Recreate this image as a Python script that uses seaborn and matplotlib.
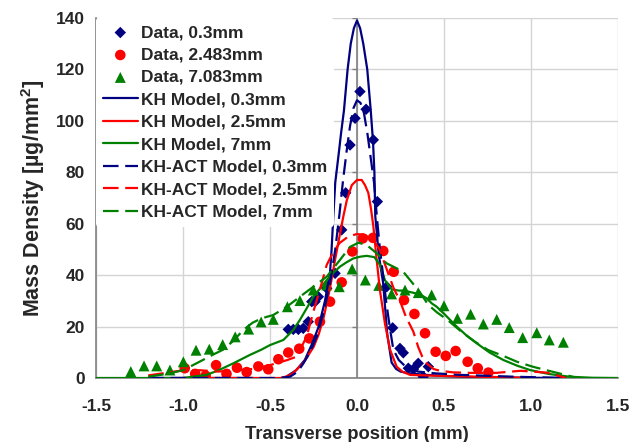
import matplotlib
matplotlib.use("Agg")
import matplotlib.pyplot as plt
import seaborn as sns
import pandas as pd
from matplotlib.transforms import blended_transform_factory

# ---------------- data ----------------
d03_x = [-0.395, -0.366, -0.337, -0.309, -0.28, -0.26, -0.241, -0.222, -0.174, -0.126,
         -0.088, -0.065, -0.04, -0.011, 0.017, 0.052, 0.094, 0.117, 0.171, 0.205,
         0.247, 0.266, 0.295, 0.324, 0.352, 0.381, 0.41]
d03_y = [18.9, 18.9, 18.9, 19.3, 21.9, 29.7, 29.7, 31.6, 34.9, 40.7,
         57.6, 72.0, 90.6, 101.0, 111.4, 104.5, 92.6, 68.6, 35.5, 19.5,
         11.5, 9.8, 3.8, 3.4, 5.7, 0.5, 4.4]

d25_x = [-0.99, -0.93, -0.87, -0.81, -0.75, -0.69, -0.634, -0.567, -0.51, -0.452,
         -0.395, -0.332, -0.274, -0.213, -0.155, -0.088, -0.027, 0.033, 0.092, 0.151,
         0.211, 0.27, 0.33, 0.391, 0.452, 0.51, 0.567, 0.636, 0.694, 0.755]
d25_y = [3.8, 1.6, 0.9, 5.0, 1.6, 4.0, 2.3, 4.5, 3.4, 7.3,
         9.9, 11.4, 15.4, 21.9, 29.7, 37.2, 49.2, 54.3, 54.5, 49.4,
         41.3, 30.3, 24.9, 17.4, 10.2, 8.6, 10.5, 6.3, 3.8, 2.1]

d7_x = [-1.30, -1.224, -1.151, -1.075, -0.998, -0.925, -0.849, -0.772, -0.70, -0.623,
        -0.551, -0.481, -0.40, -0.328, -0.251, -0.174, -0.102, -0.028, 0.048, 0.125,
        0.199, 0.276, 0.352, 0.429, 0.50, 0.577, 0.653, 0.726, 0.803, 0.875,
        0.952, 1.033, 1.105, 1.186]
d7_y = [2.5, 4.7, 4.7, 3.1, 6.3, 10.8, 11.2, 13.0, 16.0, 19.0,
        21.8, 22.8, 27.7, 30.1, 34.2, 36.2, 35.5, 42.4, 38.1, 36.0,
        32.7, 34.2, 33.2, 32.3, 28.1, 23.2, 24.8, 21.0, 22.8, 19.6,
        15.7, 17.6, 14.8, 13.9]

kh03_x = [-1.2, -0.8, -0.6, -0.52, -0.46, -0.42, -0.40, -0.35, -0.30, -0.26, -0.22, -0.184,
          -0.155, -0.146, -0.136, -0.125, -0.102, -0.092, -0.075, -0.054, -0.036, -0.018,
          0.0, 0.018, 0.036, 0.059, 0.079, 0.092, 0.100, 0.105, 0.125, 0.150, 0.174,
          0.199, 0.225, 0.25, 0.30, 0.40, 0.50, 0.70, 1.00, 1.20]
kh03_y = [0, 0, 0, -0.5, -1.0, -0.5, 0.8, 3, 7, 13, 20, 30,
          41, 50, 63, 76, 89, 95, 104, 120, 130, 136,
          139, 136, 130, 120, 104, 92, 80, 63, 48, 37, 17,
          6, 3.5, 2.5, 1.8, 1.2, 0.8, 0.3, 0.1, 0]

kh25_x = [-1.0, -0.6, -0.44, -0.4, -0.37, -0.31, -0.25, -0.22, -0.19, -0.155, -0.126,
          -0.098, -0.078, -0.059, -0.03, 0.0, 0.027, 0.046, 0.065, 0.08, 0.094, 0.113,
          0.132, 0.161, 0.19, 0.228, 0.26, 0.305, 0.4, 0.5, 0.7, 0.85, 1.0]
kh25_y = [0, 0, 0, 0.7, 1.8, 5.7, 12, 17, 24, 35, 46,
          56, 63, 69, 75, 77, 77, 75, 72, 66, 59, 46,
          34, 21, 11, 4.4, 2.5, 1.2, 1.0, 0.8, 0.5, 0.3, 0]

kh7_x = [-1.5, -1.2, -1.0, -0.864, -0.79, -0.711, -0.615, -0.55, -0.5, -0.423, -0.366,
         -0.328, -0.29, -0.251, -0.21, -0.174, -0.135, -0.098, -0.06, -0.021, 0.02, 0.056,
         0.1, 0.132, 0.161, 0.199, 0.24, 0.27, 0.32, 0.362, 0.4, 0.43, 0.458, 0.5, 0.573,
         0.63, 0.688, 0.76, 0.841, 0.92, 0.994, 1.1, 1.22, 1.35, 1.5]
kh7_y = [0, 0, 0, 1.2, 3.2, 5.7, 9, 11, 12.8, 14.8, 18.7,
         22.6, 27, 31.6, 35, 38.1, 41, 43.3, 45, 46.5, 47.2, 47.5,
         47, 44, 38, 34.5, 34, 34, 33.2, 32.5, 31, 29, 27.7, 25, 20,
         16.5, 13.5, 10, 7, 4.8, 3.1, 1.6, 0.5, 0.1, 0]

act03_x = [-1.2, -0.6, -0.45, -0.385, -0.34, -0.308, -0.27, -0.232, -0.19, -0.155, -0.125,
           -0.102, -0.08, -0.06, -0.04, -0.02, 0.0, 0.02, 0.04, 0.06, 0.08, 0.098, 0.115,
           0.132, 0.15, 0.167, 0.19, 0.209, 0.24, 0.286, 0.35, 0.45, 0.6, 0.9, 1.2]
act03_y = [0, 0, 0, 0.5, 2.5, 5.7, 10, 16, 26, 37, 50,
           63, 77, 88, 98, 105, 108, 107, 103, 95, 85, 76, 62,
           50, 40, 30, 19, 11, 7, 4, 2.5, 1.8, 1.2, 0.5, 0]

act25_x = [-1.2, -1.1, -1.0, -0.9, -0.8, -0.7, -0.6, -0.5, -0.45, -0.4, -0.347, -0.29,
           -0.25, -0.203, -0.174, -0.136, -0.1, -0.05, 0.0, 0.05, 0.1, 0.13, 0.167, 0.21,
           0.247, 0.28, 0.324, 0.352, 0.375, 0.4, 0.44, 0.477, 0.55, 0.65, 0.8, 0.94,
           1.09, 1.15, 1.2]
act25_y = [1, 2, 3, 3, 2.5, 3, 3.5, 5, 6, 7, 8.3, 16,
           26, 36.8, 44, 49, 52.5, 55, 56, 55.5, 53, 50, 43, 35,
           30, 24, 18, 12, 8.3, 5.7, 3.5, 2.8, 2.2, 2, 2, 2.8,
           2.1, 1, 0]

act7_x = [-1.2, -1.1, -1.0, -0.96, -0.9, -0.83, -0.77, -0.71, -0.653, -0.6, -0.548, -0.481,
          -0.404, -0.328, -0.251, -0.174, -0.098, -0.04, 0.008, 0.056, 0.113, 0.17, 0.209,
          0.266, 0.3, 0.33, 0.36, 0.41, 0.46, 0.52, 0.6, 0.68, 0.753, 0.851, 0.92, 1.01,
          1.09, 1.15, 1.25]
act7_y = [0.5, 1.5, 3, 4.4, 6.5, 9, 11, 14.5, 18.7, 21.5, 23.2, 24.5,
          27.7, 31.6, 35.5, 39.4, 45.9, 51, 52.6, 51.7, 48.5, 44.6, 43.3,
          41.3, 38.5, 36, 33.5, 28.4, 25.5, 22.6, 18, 14, 10.9, 8.3, 6.3, 4.4,
          3, 2, 0.3]

x_ticks = [-1.5, -1.0, -0.5, 0.0, 0.5, 1.0, 1.5]
x_ticklabels = ["-1.5", "-1.0", "-0.5", "0.0", "0.5", "1.0", "1.5"]
y_ticks = [0, 20, 40, 60, 80, 100, 120, 140]

BLUE, RED, GREEN = "#000080", "#FF0000", "#008000"

# ---------------- style ----------------
sns.set_style("white")
plt.rcParams["font.family"] = ["Liberation Sans", "DejaVu Sans"]
plt.rcParams["font.weight"] = "bold"
plt.rcParams["mathtext.fontset"] = "custom"
plt.rcParams["mathtext.rm"] = "Liberation Sans:bold"
plt.rcParams["mathtext.bf"] = "Liberation Sans:bold"
plt.rcParams["mathtext.it"] = "Liberation Sans:bold"

fig = plt.figure(figsize=(6.34, 4.42), dpi=100)
ax = fig.add_axes([96 / 634, 64 / 442, 522 / 634, 360 / 442])

# ---------------- data markers ----------------
sns.scatterplot(x=d03_x, y=d03_y, marker="D", s=34, color=BLUE, edgecolor="none",
                label="Data, 0.3mm", ax=ax, zorder=3)
sns.scatterplot(x=d25_x, y=d25_y, marker="o", s=58, color=RED, edgecolor="none",
                label="Data, 2.483mm", ax=ax, zorder=3)
sns.scatterplot(x=d7_x, y=d7_y, marker="^", s=62, color=GREEN, edgecolor="none",
                label="Data, 7.083mm", ax=ax, zorder=3)

# ---------------- model lines ----------------
lw = 1.6
dash = (0, (7, 3))
sns.lineplot(x=kh03_x, y=kh03_y, sort=False, estimator=None, color=BLUE, lw=lw,
             label="KH Model, 0.3mm", ax=ax, zorder=4)
sns.lineplot(x=kh25_x, y=kh25_y, sort=False, estimator=None, color=RED, lw=lw,
             label="KH Model, 2.5mm", ax=ax, zorder=4)
sns.lineplot(x=kh7_x, y=kh7_y, sort=False, estimator=None, color=GREEN, lw=lw,
             label="KH Model, 7mm", ax=ax, zorder=4)
sns.lineplot(x=act03_x, y=act03_y, sort=False, estimator=None, color=BLUE, lw=lw,
             linestyle=dash, label="KH-ACT Model, 0.3mm", ax=ax, zorder=4)
sns.lineplot(x=act25_x, y=act25_y, sort=False, estimator=None, color=RED, lw=lw,
             linestyle=dash, label="KH-ACT Model, 2.5mm", ax=ax, zorder=4)
sns.lineplot(x=act7_x, y=act7_y, sort=False, estimator=None, color=GREEN, lw=lw,
             linestyle=dash, label="KH-ACT Model, 7mm", ax=ax, zorder=4)

# ---------------- axes ----------------
ax.set_xlim(-1.5, 1.5)
ax.set_ylim(0, 140)
ax.set_xticks(x_ticks)
ax.set_xticklabels(x_ticklabels)
ax.set_yticks(y_ticks)
ax.grid(True, color="#d4d4d4", lw=1.0, zorder=0)
ax.set_axisbelow(True)
for side in ("top", "right"):
    ax.spines[side].set_visible(False)
for side in ("left", "bottom"):
    ax.spines[side].set_color("#808080")
    ax.spines[side].set_linewidth(1.2)
ax.tick_params(direction="out", length=4, width=1.0, color="#808080", labelsize=12.5)
ax.tick_params(axis="x", pad=11)
ax.tick_params(axis="y", pad=4)
for lab in ax.get_xticklabels() + ax.get_yticklabels():
    lab.set_fontweight("bold")

# vertical axis crossing at x = 0 with small tick marks
ax.axvline(0, color="#808080", lw=1.2, zorder=1)
trans = blended_transform_factory(ax.transAxes, ax.transData)
for yt in y_ticks[1:]:
    ax.plot([0.5 - 0.009, 0.5], [yt, yt], transform=trans, color="#808080",
            lw=1.0, zorder=1, solid_capstyle="butt")

ax.set_xlabel("Transverse position (mm)", fontsize=13.2, fontweight="bold", labelpad=9)
ax.set_ylabel(r"Mass Density [µg/mm$^{\mathbf{2}}$]", fontsize=15.5, fontweight="bold",
              labelpad=6)

leg = ax.legend(loc="upper left", bbox_to_anchor=(0.0, 1.0), borderaxespad=0.0,
                frameon=True, facecolor="white", edgecolor="none", framealpha=1.0,
                fontsize=12.5, handlelength=2.0, handletextpad=0.17, labelspacing=0.42,
                borderpad=0.4, markerscale=1.0)
leg.get_frame().set_linewidth(0)
for t in leg.get_texts():
    t.set_fontweight("bold")
leg.set_zorder(5)

fig.savefig("out.png", dpi=100)
